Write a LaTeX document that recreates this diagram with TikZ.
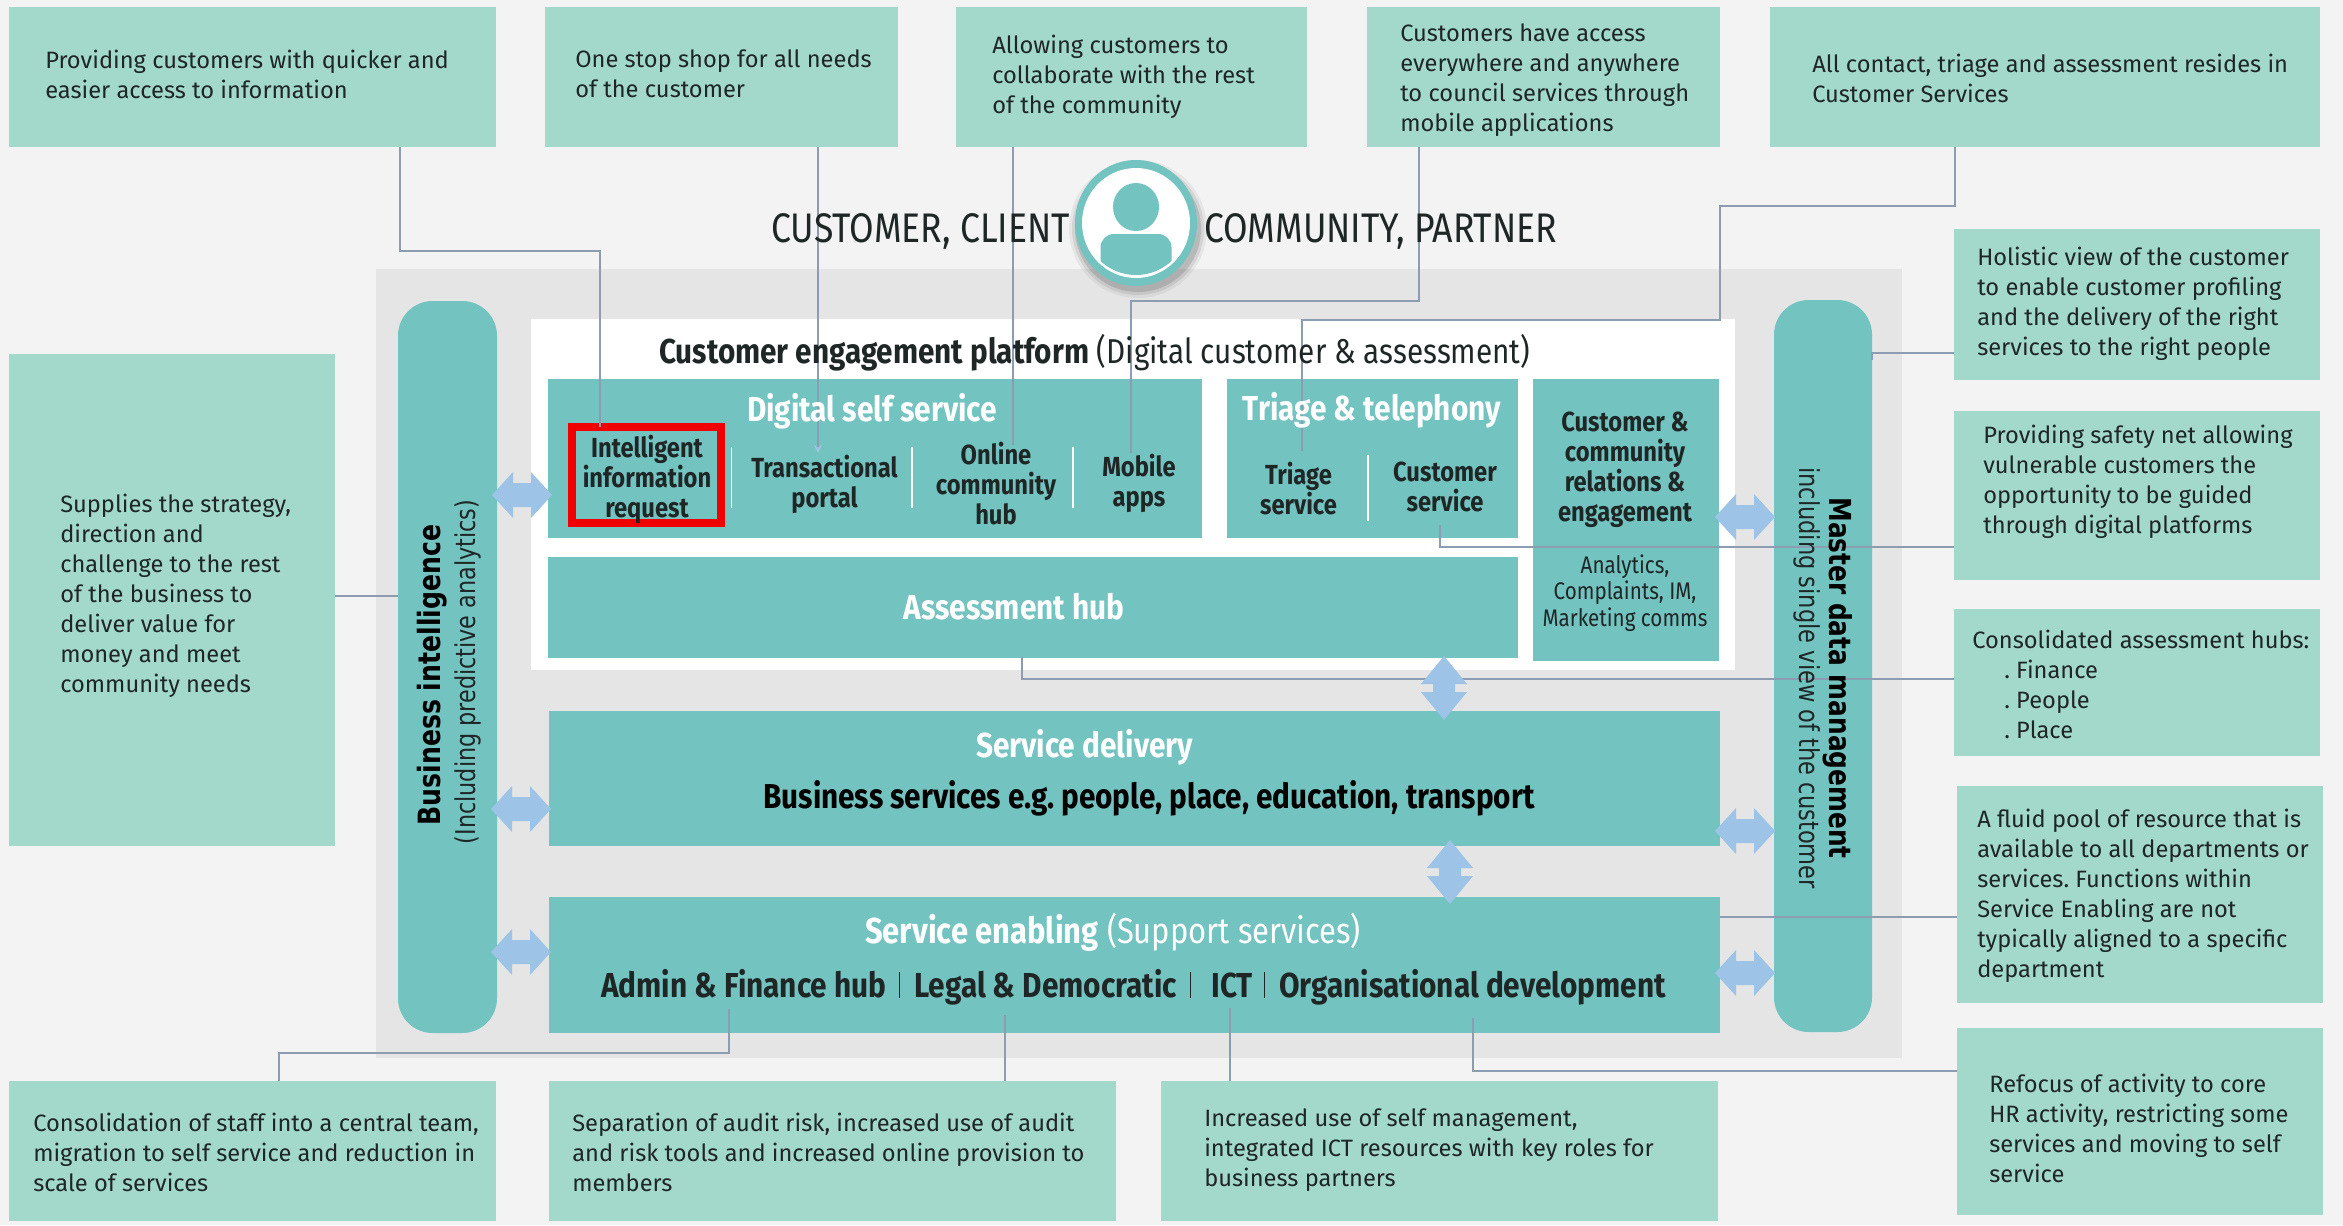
\documentclass[tikz,border=0pt]{standalone}
\usepackage{fontspec}
\setmainfont{Fira Sans}
\newfontfamily\cond[FakeStretch=0.86]{Fira Sans}
\newfontfamily\vfont[FakeStretch=0.82]{DejaVu Sans}
\usetikzlibrary{arrows.meta}
\frenchspacing
\definecolor{bgc}{HTML}{F3F3F3}
\definecolor{greyc}{HTML}{E5E5E5}
\definecolor{tealc}{HTML}{73C3C0}
\definecolor{notec}{HTML}{A3D9CB}
\definecolor{connc}{HTML}{8C9DB2}
\definecolor{arrc}{HTML}{9DC3E6}
\definecolor{darkc}{HTML}{1E2626}
\definecolor{redc}{HTML}{F00000}
\newcommand\fz[2]{\fontsize{#1}{#2}\selectfont}
\newcommand\rbox[6]{\node[#2,minimum width={(#5-#3)*0.75pt},minimum height={(#6-#4)*0.75pt}] (#1) at ({(#3+#5)/2},{(#4+#6)/2}) {};}
\tikzset{
  boxbase/.style={inner sep=0pt,outer sep=0pt,draw=none},
  notebox/.style={boxbase,fill=notec},
  tealbox/.style={boxbase,fill=tealc},
  pillbox/.style={boxbase,fill=tealc,rounded corners=26pt},
  notetxt/.style={inner sep=0pt,anchor=west,align=left,text=darkc,font={\frenchspacing\fz{17.75}{22.5}}},
  head/.style={inner sep=0pt,align=center,text=white,font={\cond\bfseries\fz{26}{30}}},
  sub/.style={inner sep=0pt,align=center,text=darkc,font={\cond\bfseries\fz{20.7}{22.5}}},
  small/.style={inner sep=0pt,align=center,text=darkc,font={\cond\fz{18}{20}}},
  big/.style={inner sep=0pt,text=darkc,font={\cond\fz{31}{36}}},
  row/.style={inner sep=0pt,anchor=base west,text=darkc,font={\cond\bfseries\fz{26}{30}}},
  conn/.style={draw=connc,line width=1.5pt},
  connthin/.style={draw=connc,line width=1pt},
  sepw/.style={draw=white,line width=1pt},
  sepd/.style={draw=darkc,line width=0.6pt},
  pics/harrow/.style={code={\fill[arrc] (-30,0)--(-9,-23)--(-9,-12)--(9,-12)--(9,-23)--(30,0)--(9,23)--(9,12)--(-9,12)--(-9,23)--cycle;}},
  pics/varrow/.style={code={\fill[arrc] (0,-32)--(-23,-4)--(-11,-4)--(-11,4)--(-23,4)--(0,32)--(23,4)--(11,4)--(11,-4)--(23,-4)--cycle;}}
}
\begin{document}
\begin{tikzpicture}[x=0.75pt,y=-0.75pt]
\useasboundingbox (0,0) rectangle (2343,1225);
\fill[bgc] (0,0) rectangle (2343,1225);
% grey field and white panel
\rbox{field}{boxbase,fill=greyc}{376}{269}{1902}{1058}
\rbox{panel}{boxbase,fill=white}{531}{319}{1735}{670}
% note boxes
\rbox{n1}{notebox}{9}{7}{496}{147}
\rbox{n2}{notebox}{545}{7}{898}{147}
\rbox{n3}{notebox}{956}{7}{1307}{147}
\rbox{n4}{notebox}{1367}{7}{1720}{147}
\rbox{n5}{notebox}{1770}{7}{2320}{147}
\rbox{l1}{notebox}{9}{354}{335}{846}
\rbox{r1}{notebox}{1954}{229}{2320}{380}
\rbox{r2}{notebox}{1954}{411}{2320}{580}
\rbox{r3}{notebox}{1954}{609}{2320}{756}
\rbox{r4}{notebox}{1957}{786}{2323}{1003}
\rbox{r5}{notebox}{1957}{1028}{2323}{1215}
\rbox{b1}{notebox}{9}{1081}{496}{1221}
\rbox{b2}{notebox}{549}{1081}{1116}{1221}
\rbox{b3}{notebox}{1161}{1081}{1718}{1221}
% teal boxes
\rbox{bi}{pillbox}{398}{301}{497}{1033}
\rbox{mdm}{pillbox}{1774}{300}{1872}{1032}
\rbox{dss}{tealbox}{548}{379}{1202}{538}
\rbox{tri}{tealbox}{1227}{379}{1518}{538}
\rbox{ccr}{tealbox}{1533}{379}{1719}{661}
\rbox{ahub}{tealbox}{548}{557}{1518}{658}
\rbox{sd}{tealbox}{549}{711}{1720}{846}
\rbox{se}{tealbox}{549}{897}{1720}{1033}
% separators
\coordinate (s1a) at (731.5,447); \coordinate (s1b) at (731.5,508);
\coordinate (s2a) at (912,447); \coordinate (s2b) at (912,508);
\coordinate (s3a) at (1073,447); \coordinate (s3b) at (1073,508);
\coordinate (s4a) at (1368,455); \coordinate (s4b) at (1368,521);
\coordinate (s5a) at (899,972); \coordinate (s5b) at (899,998);
\coordinate (s6a) at (1190,972); \coordinate (s6b) at (1190,998);
\coordinate (s7a) at (1264,972); \coordinate (s7b) at (1264,998);
\draw[sepw] (s1a)--(s1b); \draw[sepw] (s2a)--(s2b); \draw[sepw] (s3a)--(s3b); \draw[sepw] (s4a)--(s4b);
\draw[sepd] (s5a)--(s5b); \draw[sepd] (s6a)--(s6b); \draw[sepd] (s7a)--(s7b);
% red frame
\rbox{redbox}{boxbase,draw=redc,line width=5.6pt}{572}{427}{721}{523}
% avatar
\foreach \rad/\opa in {69/0.05,66/0.08,63/0.12}{\fill[black,opacity=\opa] (1138,229) circle[radius=\rad];}
\fill[tealc] (1136,223) ellipse[x radius=61,y radius=63];
\fill[white] (1136,223) ellipse[x radius=54,y radius=55];
\begin{scope}
\clip (1136,223) circle[radius=52];
\fill[tealc,rounded corners=10pt] (1100.5,234) rectangle (1171.5,300);
\end{scope}
\fill[tealc] (1136,207) ellipse[x radius=23,y radius=24];
% connectors
\coordinate (j1a) at (400,251); \coordinate (j1b) at (600,251);
\draw[conn] (n1.south -| j1a) -- (j1a) -- (j1b) -- (redbox.north -| j1b);
\coordinate (j2) at (818,453);
\draw[connthin,-{Stealth[length=6pt,width=6pt,color=arrc]}] (n2.south -| j2) -- (j2);
\coordinate (j3) at (1013,445);
\draw[connthin] (n3.south -| j3) -- (j3);
\coordinate (j4a) at (1419,301); \coordinate (j4b) at (1131,301); \coordinate (j4c) at (1131,453);
\draw[conn] (n4.south -| j4a) -- (j4a) -- (j4b) -- (j4c);
\coordinate (j5a) at (1955,206); \coordinate (j5b) at (1720,206); \coordinate (j5c) at (1720,320); \coordinate (j5d) at (1301.5,320); \coordinate (j5e) at (1301.5,451);
\draw[conn] (n5.south -| j5a) -- (j5a) -- (j5b) -- (j5c) -- (j5d) -- (j5e);
\coordinate (j6a) at (1872,353); \coordinate (j6b) at (1872,360);
\draw[connthin] (r1.west |- j6a) -- (j6a) -- (j6b);
\coordinate (j7a) at (1440,547); \coordinate (j7b) at (1440,525);
\draw[conn] (r2.west |- j7a) -- (j7a) -- (j7b);
\coordinate (j8a) at (1022,679); \coordinate (j8b) at (1022,657);
\draw[conn] (r3.west |- j8a) -- (j8a) -- (j8b);
\coordinate (j9) at (1720,917);
\draw[conn] (r4.west |- j9) -- (j9);
\coordinate (j10a) at (1473,1071); \coordinate (j10b) at (1473,1018);
\draw[conn] (r5.west |- j10a) -- (j10a) -- (j10b);
\coordinate (j12) at (1230,1008);
\draw[connthin] (j12) -- (b3.north -| j12);
\coordinate (j13) at (1005,1015);
\draw[connthin] (j13) -- (b2.north -| j13);
\coordinate (j14a) at (728.5,1009); \coordinate (j14b) at (728.5,1053); \coordinate (j14c) at (279,1053);
\draw[conn] (j14a) -- (j14b) -- (j14c) -- (b1.north -| j14c);
\coordinate (j15) at (398,596);
\draw[connthin] (l1.east |- j15) -- (j15);
% double arrows
\pic at (522,495) {harrow}; \pic at (521,809) {harrow}; \pic at (521,952) {harrow};
\pic at (1745,517) {harrow}; \pic at (1745,831) {harrow}; \pic at (1745,973) {harrow};
\pic at (1444,688) {varrow}; \pic at (1450,872) {varrow};
% note texts
\node[notetxt] (tn1) at (45,74) {Providing customers with quicker and\\easier access to information};
\node[notetxt] (tn2) at (575,74) {One stop shop for all needs\\of the customer};
\node[notetxt] (tn3) at (992,77) {Allowing customers to\\collaborate with the rest\\of the community};
\node[notetxt] (tn4) at (1400,80) {Customers have access\\everywhere and anywhere\\to council services through\\mobile applications};
\node[notetxt] (tn5) at (1812,78) {All contact, triage and assessment resides in\\Customer Services};
\node[notetxt] (tl1) at (60,596) {Supplies the strategy,\\direction and\\challenge to the rest\\of the business to\\deliver value for\\money and meet\\community needs};
\node[notetxt] (tr1) at (1977,304) {Holistic view of the customer\\to enable customer profiling\\and the delivery of the right\\services to the right people};
\node[notetxt] (tr2) at (1983,482) {Providing safety net allowing\\vulnerable customers the\\opportunity to be guided\\through digital platforms};
\node[notetxt] (tr3) at (1972,684) {Consolidated assessment hubs:\\\hspace*{24pt}. Finance\\\hspace*{24pt}. People\\\hspace*{24pt}. Place};
\node[notetxt] (tr4) at (1977,896) {A fluid pool of resource that is\\available to all departments or\\services. Functions within\\Service Enabling are not\\typically aligned to a specific\\department};
\node[notetxt] (tr5) at (1989,1128) {Refocus of activity to core\\HR activity, restricting some\\services and moving to self\\service};
\node[notetxt] (tb1) at (33,1152) {Consolidation of staff into a central team,\\migration to self service and reduction in\\scale of services};
\node[notetxt] (tb2) at (572,1152) {Separation of audit risk, increased use of audit\\and risk tools and increased online provision to\\members};
\node[notetxt] (tb3) at (1204,1150) {Increased use of self management,\\integrated ICT resources with key roles for\\business partners};
% titles
\node[big,anchor=west] (tc1) at (771,231) {CUSTOMER, CLIENT};
\node[big,anchor=west] (tc2) at (1204,231) {COMMUNITY, PARTNER};
\node[inner sep=0pt,anchor=west,text=darkc,font={\cond\fz{25.9}{30}}] (tcep) at (659,353) {\textbf{Customer engagement platform} (Digital customer \& assessment)};
\node[head] (tdss) at (872,411) {Digital self service};
\node[sub] (t1) at (647,479) {Intelligent\\information\\request};
\node[sub] (t2) at (824.5,484) {Transactional\\portal};
\node[sub] (t3) at (996,484) {Online\\community\\hub};
\node[sub] (t4) at (1139,483) {Mobile\\apps};
\node[head] (ttri) at (1372,410) {Triage \& telephony};
\node[sub] (t5) at (1298.5,489) {Triage\\service};
\node[sub] (t6) at (1445,487) {Customer\\service};
\node[sub] (t7) at (1625,470) {Customer \&\\community\\relations \&\\engagement};
\node[small] (t8) at (1625,593) {Analytics,\\Complaints, IM,\\Marketing comms};
\node[head] (tah) at (1014,607) {Assessment hub};
\node[head] (tsd) at (1084.5,747) {Service delivery};
\node[inner sep=0pt,text=black,font={\cond\bfseries\fz{25.9}{30}}] (tbs) at (1149,798) {Business services e.g. people, place, education, transport};
\node[inner sep=0pt,text=white,font={\cond\fz{27}{30}}] (tse) at (1113,932) {\textbf{Service enabling} (Support services)};
\node[row] (a1) at (601,997) {Admin \& Finance hub};
\node[row] (a2) at (914,997) {Legal \& Democratic};
\node[row] (a3) at (1211,997) {ICT};
\node[row] (a4) at (1279,997) {Organisational development};
% vertical texts
\node[inner sep=0pt,rotate=90,text=black,font={\vfont\bfseries\fz{23}{26}}] (vb1) at (432,675) {Business intelligence};
\node[inner sep=0pt,rotate=90,text=darkc,font={\vfont\fz{20.4}{24}}] (vb2) at (468,672) {(Including predictive analytics)};
\node[inner sep=0pt,rotate=-90,text=black,font={\vfont\bfseries\fz{22.7}{26}}] (vm1) at (1838,678) {Master data management};
\node[inner sep=0pt,rotate=-90,text=darkc,font={\vfont\fz{20.6}{24}}] (vm2) at (1807,678) {including single view of the customer};
\end{tikzpicture}
\end{document}
